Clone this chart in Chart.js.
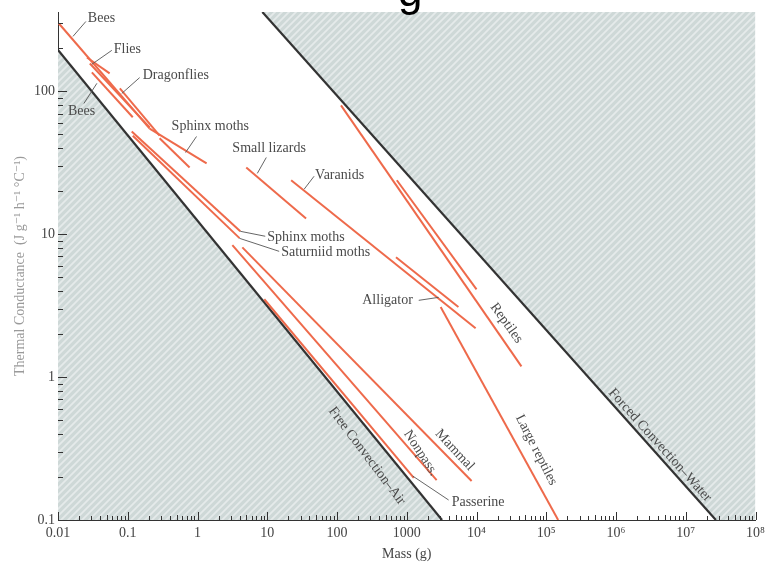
<!DOCTYPE html>
<html><head><meta charset="utf-8">
<script src="https://cdn.jsdelivr.net/npm/chart.js@4.4.1/dist/chart.umd.min.js"></script>
<style>html,body{margin:0;padding:0;background:#fff;overflow:hidden}</style>
</head><body>
<canvas id="c" width="770" height="565"></canvas>
<script>
// ---------------- data ----------------
const massTicks = [0.01, 0.1, 1, 10, 100, 1000, 1e4, 1e5, 1e6, 1e7, 1e8];
const massTickLabels = ['0.01', '0.1', '1', '10', '100', '1000', '10⁴', '10⁵', '10⁶', '10⁷', '10⁸'];
const condTicks = [0.1, 1, 10, 100];
const condTickLabels = ['0.1', '1', '10', '100'];
const massRange = [0.01, 1e8];
const condRange = [0.1, 360];

// boundary lines (mass g, conductance J g-1 h-1 C-1)
const freeConvectionMass = [0.01, 3200];
const freeConvectionCond = [195, 0.1];
const forcedConvectionMass = [8.5, 2.7e7];
const forcedConvectionCond = [360, 0.1];

// measured animal groups (segment start/end)
const groupNames = ['Bees', 'Flies', 'Flies b', 'Bees b', 'Dragonflies', 'Sphinx moths', 'Sphinx moths b',
  'Sphinx moths c', 'Saturniid moths', 'Passerine', 'Nonpass.', 'Mammal', 'Small lizards', 'Varanids',
  'Alligator', 'Reptiles', 'Reptiles b', 'Large reptiles'];
const massStart = [0.0103, 0.026, 0.0286, 0.0306, 0.077, 0.206, 0.286, 0.114, 0.118, 9.06, 3.16, 4.39, 5.0, 22, 700, 114, 720, 3060];
const massEnd   = [0.206, 0.055, 0.206, 0.118, 0.286, 1.35, 0.77, 4.1, 4.0, 1260, 2680, 8500, 36, 9700, 5500, 44000, 10000, 148000];
const condStart = [299, 173, 157, 136, 105, 55, 47, 52.5, 49, 3.51, 8.4, 8.1, 29.4, 23.9, 6.9, 80, 23.9, 3.1];
const condEnd   = [55, 134, 56, 66, 49, 31.4, 29.4, 10.5, 9.4, 0.197, 0.19, 0.1875, 12.9, 2.2, 3.1, 1.19, 4.12, 0.1];

// ---------------- labels (anchored in data coordinates) ----------------
const annotations = [
  {text: 'Bees', at: [0.0268, 324], align: 'left', ptr: [[0.0164, 243], [0.0251, 309]]},
  {text: 'Flies', at: [0.0631, 197], align: 'left', ptr: [[0.0306, 155], [0.0591, 194]]},
  {text: 'Dragonflies', at: [0.164, 129], align: 'left', ptr: [[0.082, 96.8], [0.148, 125]]},
  {text: 'Bees', at: [0.0139, 72.4], align: 'left', ptr: [[0.0235, 82.4], [0.0361, 114]]},
  {text: 'Sphinx moths', at: [0.425, 56.9], align: 'left', ptr: [[0.674, 37.4], [0.968, 48.4]]},
  {text: 'Small lizards', at: [3.16, 39.9], align: 'left', ptr: [[7.2, 26.7], [9.68, 34.5]]},
  {text: 'Varanids', at: [48.5, 25.9], align: 'left', ptr: [[33.8, 20.7], [46.9, 25.5]]},
  {text: 'Sphinx moths', at: [10, 9.53], align: 'left', ptr: [[4.1, 10.5], [9.36, 9.69]]},
  {text: 'Saturniid moths', at: [15.8, 7.48], align: 'left', ptr: [[3.98, 9.38], [14.8, 7.6]]},
  {text: 'Alligator', at: [230, 3.45], align: 'left', ptr: [[1484, 3.45], [2865, 3.62]]},
  {text: 'Reptiles', at: [26800, 2.39], align: 'center', angle: 54},
  {text: 'Large reptiles', at: [72000, 0.309], align: 'center', angle: 63},
  {text: 'Mammal', at: [4850, 0.309], align: 'center', angle: 47},
  {text: 'Nonpass.', at: [1585, 0.294], align: 'center', angle: 57},
  {text: 'Passerine', at: [4395, 0.134], align: 'left', ptr: [[1218, 0.203], [3981, 0.138]]},
  {text: 'Free Convection–Air', at: [268, 0.281], align: 'center', angle: 53},
  {text: 'Forced Convection–Water', at: [4.25e6, 0.334], align: 'center', angle: 48}
];

// ---------------- styles ----------------
const ORANGE = '#ee6a4b';
const SERIF = '"Liberation Serif", "DejaVu Serif", serif';

function makePattern() {
  const c = document.createElement('canvas');
  c.width = 7; c.height = 7;
  const g = c.getContext('2d');
  g.fillStyle = '#ced8d7';
  g.fillRect(0, 0, 7, 7);
  g.strokeStyle = '#e5eaea';
  g.lineWidth = 1.8;
  g.beginPath();
  g.moveTo(-1, 8); g.lineTo(8, -1);
  g.moveTo(-4.5, 4.5); g.lineTo(4.5, -4.5);
  g.moveTo(2.5, 11.5); g.lineTo(11.5, 2.5);
  g.stroke();
  return g.createPattern(c, 'repeat');
}
const hatch = makePattern();

const pts = (xs, ys) => xs.map((x, i) => ({x: x, y: ys[i]}));

const datasets = [];
datasets.push({
  label: 'free-fill', data: pts(freeConvectionMass, freeConvectionCond),
  showLine: true, pointRadius: 0, borderWidth: 0, borderColor: 'rgba(0,0,0,0)',
  backgroundColor: hatch, fill: {value: condRange[0]}, order: 10
});
datasets.push({
  label: 'forced-fill',
  data: pts(forcedConvectionMass.concat([massRange[1]]), forcedConvectionCond.concat([condRange[0]])),
  showLine: true, pointRadius: 0, borderWidth: 0, borderColor: 'rgba(0,0,0,0)',
  backgroundColor: hatch, fill: {value: condRange[1]}, order: 10
});
datasets.push({
  label: 'Free Convection–Air', data: pts(freeConvectionMass, freeConvectionCond),
  showLine: true, pointRadius: 0, borderWidth: 2.2, borderColor: '#333', fill: false, order: 5
});
datasets.push({
  label: 'Forced Convection–Water', data: pts(forcedConvectionMass, forcedConvectionCond),
  showLine: true, pointRadius: 0, borderWidth: 2.2, borderColor: '#333', fill: false, order: 5
});
groupNames.forEach((name, i) => {
  datasets.push({
    label: name,
    data: [{x: massStart[i], y: condStart[i]}, {x: massEnd[i], y: condEnd[i]}],
    showLine: true, pointRadius: 0, borderWidth: 2, borderColor: ORANGE, fill: false, order: 1
  });
});

// inward ticks + annotations
const decorPlugin = {
  id: 'decor',
  afterDraw(chart) {
    const ctx = chart.ctx;
    const xs = chart.scales.x, ys = chart.scales.y;
    const area = chart.chartArea;
    ctx.save();
    ctx.strokeStyle = '#333';
    ctx.lineWidth = 1;
    for (let d = -2; d <= 8; d++) {
      for (let m = 1; m <= 9; m++) {
        const v = m * Math.pow(10, d);
        if (v < massRange[0] * 0.999 || v > massRange[1] * 1.001) continue;
        const px = Math.round(xs.getPixelForValue(v)) + 0.5;
        const len = m === 1 ? 8 : (m === 5 ? 5 : 4);
        ctx.beginPath(); ctx.moveTo(px, area.bottom); ctx.lineTo(px, area.bottom - len); ctx.stroke();
      }
    }
    for (let d = -1; d <= 2; d++) {
      for (let m = 1; m <= 9; m++) {
        const v = m * Math.pow(10, d);
        if (v < condRange[0] * 0.999 || v > condRange[1] * 1.001) continue;
        const py = Math.round(ys.getPixelForValue(v)) + 0.5;
        const len = m === 1 ? 9 : 5;
        ctx.beginPath(); ctx.moveTo(area.left, py); ctx.lineTo(area.left + len, py); ctx.stroke();
      }
    }
    ctx.font = '14px ' + SERIF;
    ctx.fillStyle = '#4a4a4a';
    ctx.strokeStyle = '#555';
    ctx.lineWidth = 0.9;
    annotations.forEach(a => {
      if (a.ptr) {
        ctx.beginPath();
        ctx.moveTo(xs.getPixelForValue(a.ptr[0][0]), ys.getPixelForValue(a.ptr[0][1]));
        ctx.lineTo(xs.getPixelForValue(a.ptr[1][0]), ys.getPixelForValue(a.ptr[1][1]));
        ctx.stroke();
      }
      const px = xs.getPixelForValue(a.at[0]);
      const py = ys.getPixelForValue(a.at[1]);
      ctx.save();
      ctx.translate(px, py);
      if (a.angle) ctx.rotate(a.angle * Math.PI / 180);
      ctx.textAlign = a.align;
      ctx.textBaseline = 'middle';
      ctx.fillText(a.text, 0, 0);
      ctx.restore();
    });
    // cut-off heading fragment at the very top
    ctx.font = '44px "Liberation Sans", Arial, sans-serif';
    ctx.fillStyle = '#000';
    ctx.textAlign = 'left';
    ctx.textBaseline = 'alphabetic';
    ctx.fillText('g', 398, 6);
    ctx.restore();
  }
};

new Chart(document.getElementById('c'), {
  type: 'scatter',
  data: {datasets: datasets},
  plugins: [decorPlugin],
  options: {
    responsive: false,
    animation: false,
    devicePixelRatio: 1,
    layout: {padding: {left: 10, right: 12, top: 12, bottom: 0}},
    plugins: {legend: {display: false}, tooltip: {enabled: false}, title: {display: false}},
    scales: {
      x: {
        type: 'logarithmic', position: 'bottom', min: massRange[0], max: massRange[1],
        afterBuildTicks: s => { s.ticks = massTicks.map(v => ({value: v})); },
        afterFit: s => { s.height = 45; },
        ticks: {autoSkip: false, maxRotation: 0, padding: 5, color: '#444',
          font: {family: SERIF, size: 14}, callback: (v, i) => massTickLabels[i]},
        grid: {display: false, drawTicks: false},
        border: {display: true, color: '#333', width: 1},
        title: {display: true, text: 'Mass (g)', color: '#444', font: {family: SERIF, size: 14},
          padding: {top: 2, bottom: 2}}
      },
      y: {
        type: 'logarithmic', position: 'left', min: condRange[0], max: condRange[1],
        afterBuildTicks: s => { s.ticks = condTicks.map(v => ({value: v})); },
        afterFit: s => { s.width = 48; },
        ticks: {autoSkip: false, padding: 3, color: '#444',
          font: {family: SERIF, size: 14}, callback: (v, i) => condTickLabels[i]},
        grid: {display: false, drawTicks: false},
        border: {display: true, color: '#333', width: 1},
        title: {display: true, text: 'Thermal Conductance  (J g⁻¹ h⁻¹ °C⁻¹)', color: '#9a9a9a',
          font: {family: SERIF, size: 14}, padding: {top: 2, bottom: 2}}
      }
    }
  }
});
</script>
</body></html>
